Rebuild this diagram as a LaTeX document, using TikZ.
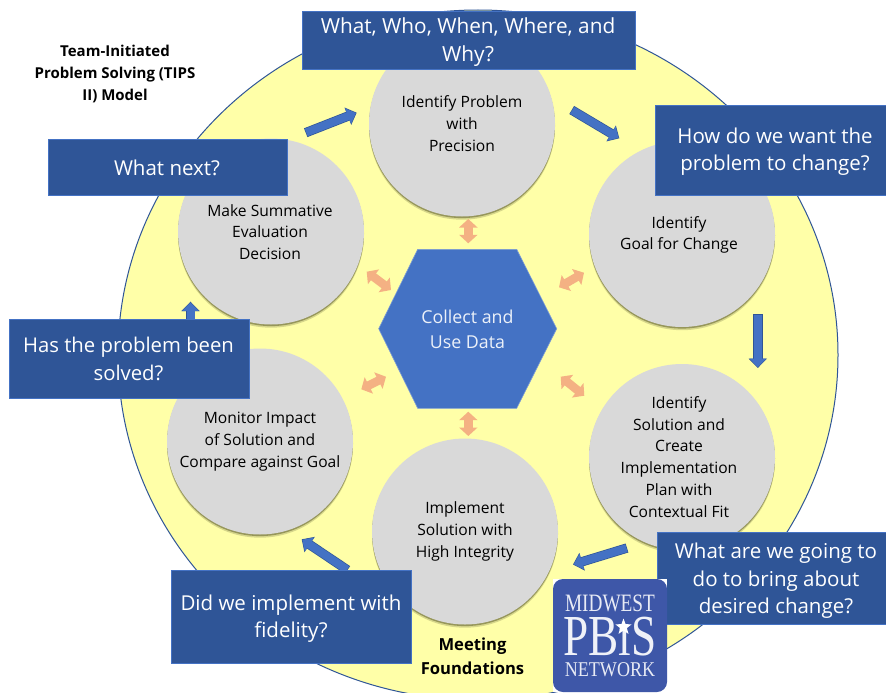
\documentclass[tikz,border=0pt]{standalone}
\usepackage{fontspec}
\setmainfont{Open Sans}
\newfontfamily\logofont{Liberation Serif}
\usetikzlibrary{arrows.meta,shadows,shapes.geometric}
\definecolor{yel}{HTML}{FFFFA8}
\definecolor{cgray}{HTML}{D9D9D9}
\definecolor{navy}{HTML}{2F5597}
\definecolor{midblue}{HTML}{4472C4}
\definecolor{salmon}{HTML}{F4B183}
\definecolor{logoblue}{HTML}{3E57A8}
\definecolor{shad}{HTML}{8F8F55}
\tikzset{
  stepcircle/.style={circle,fill=cgray,minimum size=186pt,inner sep=0pt,align=center,text=black,
    font=\fontsize{15.6}{21.8}\selectfont,
    drop shadow={shadow xshift=0pt,shadow yshift=-3.2pt,fill=shad,opacity=.35},
    drop shadow={shadow xshift=0pt,shadow yshift=-1.6pt,fill=shad,opacity=.9}},
  steptext/.style={align=center,text=black,inner sep=0pt,font=\fontsize{15.6}{21.8}\selectfont},
  qbox/.style={rectangle,fill=navy,draw=midblue,line width=.7pt,inner sep=0pt,align=center,text=white,
    font=\fontsize{20.5}{27.5}\selectfont},
  qtext/.style={align=center,text=white,inner sep=0pt,font=\fontsize{20.5}{27.5}\selectfont},
  flow/.style={line width=8pt,draw=midblue,shorten >=.8pt,shorten <=.6pt,-{Triangle[width=16pt,length=8.5pt]},
    preaction={draw=navy,line width=9.4pt,shorten >=0pt,shorten <=0pt,-{Triangle[width=18pt,length=9.5pt]}}},
  link/.style={line width=8.5pt,draw=salmon,{Triangle[width=18pt,length=8.5pt]}-{Triangle[width=18pt,length=8.5pt]}},
  boldtext/.style={align=center,text=black,font=\bfseries\fontsize{15}{21.6}\selectfont},
}
\begin{document}
\begin{tikzpicture}[x=1pt,y=-1pt]
\useasboundingbox (0,0) rectangle (886,693);
\fill[white] (0,0) rectangle (886,693);
\begin{scope}
\clip (0,0) rectangle (886,693);
\draw[fill=yel,draw=navy,line width=1pt] (478,355) ellipse [x radius=360,y radius=345];
\end{scope}

\node[stepcircle] (prob) at (462,123.5) {Identify Problem\\with\\Precision};
\node[stepcircle] (goal) at (682,234) {};
\node[steptext] (goalt) at (679,235) {Identify\\Goal for Change};
\node[stepcircle] (sol) at (682,457) {};
\node[steptext] (solt) at (679,457) {Identify\\Solution and\\Create\\Implementation\\Plan with\\Contextual Fit};
\node[stepcircle] (impl) at (465,531.5) {Implement\\Solution with\\High Integrity};
\node[stepcircle] (mon) at (260,441.5) {Monitor Impact\\of Solution and\\Compare against Goal};
\node[stepcircle] (eval) at (271,231.5) {};
\node[steptext] (evalt) at (270,232) {Make Summative\\Evaluation\\Decision};

\fill[midblue,draw=midblue!70!white,line width=.6pt] (417.7,249.3) -- (516.7,249.3) -- (556.7,328.7) -- (516.7,408.3) -- (417.7,408.3) -- (378.7,328.7) -- cycle;
\node[align=center,text=white!90!midblue,inner sep=0pt,font=\fontsize{17.8}{24.8}\selectfont] (data) at (467.5,329.5) {Collect and\\Use Data};

% flow arrows
\coordinate (f1a) at (305.7,132.7); \coordinate (f1b) at (356.7,112.7);
\coordinate (f2a) at (571.7,110);   \coordinate (f2b) at (619.3,138.3);
\coordinate (f3a) at (757.8,314);   \coordinate (f3b) at (757.8,368);
\coordinate (f4a) at (627,548);     \coordinate (f4b) at (573,564.5);
\coordinate (f5a) at (347.5,570);   \coordinate (f5b) at (301.7,539.3);
\coordinate (f6a) at (190.5,325);   \coordinate (f6b) at (190.5,301.7);
\foreach \p in {1,...,6} \draw[flow] (f\p a) -- (f\p b);

% data links
\coordinate (l1a) at (468.3,219); \coordinate (l1b) at (468.3,243.3);
\coordinate (l2a) at (468.3,411.7); \coordinate (l2b) at (468.3,436);
\coordinate (l3a) at (366.7,271.7); \coordinate (l3b) at (391,290);
\coordinate (l4a) at (559,287.3); \coordinate (l4b) at (584,272.7);
\coordinate (l5a) at (361.3,389.3); \coordinate (l5b) at (386,376.7);
\coordinate (l6a) at (560.7,376.7); \coordinate (l6b) at (584.3,395.7);
\foreach \p in {1,...,6} \draw[link] (l\p a) -- (l\p b);

% question boxes
\node[qbox,minimum width=333pt,minimum height=58pt] (q1) at (468.5,40) {};
\node[qtext,font=\fontsize{20.8}{28}\selectfont] (q1t) at (468,42.5) {What, Who, When, Where, and\\Why?};
\node[qbox,minimum width=240pt,minimum height=90pt] (q2) at (775,150) {};
\node[qtext] (q2t) at (775,151.5) {How do we want the\\problem to change?};
\node[qbox,minimum width=239pt,minimum height=56pt] (q3) at (167.5,167) {};
\node[qtext] (q3t) at (167,168) {What next?};
\node[qbox,minimum width=240pt,minimum height=79pt] (q4) at (129,358.5) {};
\node[qtext,font=\fontsize{20.3}{27.5}\selectfont] (q4t) at (128.5,359) {Has the problem been\\solved?};
\node[qbox,minimum width=240pt,minimum height=93pt] (q5) at (291,616.5) {};
\node[qtext] (q5t) at (291,618.5) {Did we implement with\\fidelity?};
\node[qbox,minimum width=240pt,minimum height=92pt] (q6) at (777,578) {};
\node[qtext] (q6t) at (776,581) {What are we going to\\do to bring about\\desired change?};

\node[boldtext] (title) at (115,74) {Team-Initiated\\Problem Solving (TIPS\\II) Model};
\node[boldtext,font=\bfseries\fontsize{16.6}{24}\selectfont] (found) at (472.5,656) {Meeting\\Foundations};

% logo
\fill[white] (553,579) rectangle (667,692);
\fill[logoblue,rounded corners=10pt] (553,579) rectangle (667,692);
\node[inner sep=0pt,text=white!88!logoblue,font=\logofont\fontsize{25}{25}\selectfont] (lg1) at (610,603) {\scalebox{.77}[1]{MIDWEST}};
\node[inner sep=0pt,text=white!92!logoblue,font=\logofont\fontsize{58}{58}\selectfont] (lg2) at (610,637) {\scalebox{.78}[1]{PBıS}};
\node[star,star points=5,star point ratio=2.4,fill=white,inner sep=0pt,minimum size=17pt] (lgs) at (623.5,627) {};
\node[inner sep=0pt,text=white!88!logoblue,font=\logofont\fontsize{21}{21}\selectfont] (lg3) at (610,670) {\scalebox{.86}[1]{NETWORK}};
\end{tikzpicture}
\end{document}
